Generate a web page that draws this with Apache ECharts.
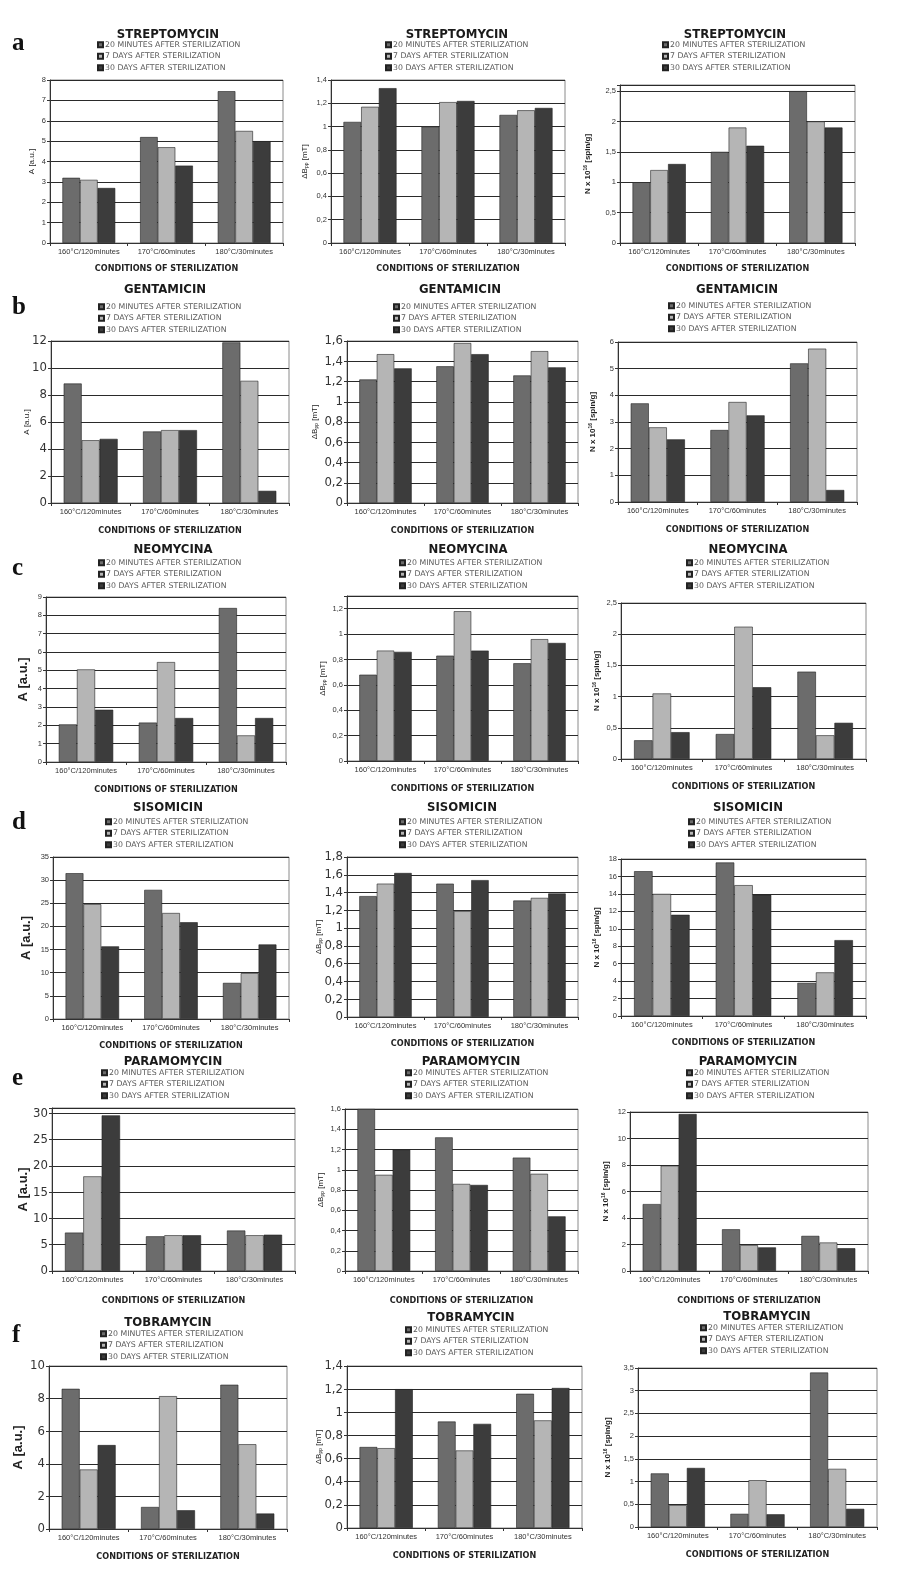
<!DOCTYPE html>
<html><head><meta charset="utf-8">
<script src="https://cdn.jsdelivr.net/npm/echarts@6/dist/echarts.min.js"></script>
<style>html,body{margin:0;padding:0;background:#fff}#c{width:900px;height:1592px}</style>
</head><body><div id="c"></div>
<script>
const categories = ['160°C/120minutes', '170°C/60minutes', '180°C/30minutes'];
const seriesNames = ['20 MINUTES AFTER STERILIZATION', '7 DAYS AFTER STERILIZATION', '30 DAYS AFTER STERILIZATION'];
const drugNames = ['STREPTOMYCIN', 'GENTAMICIN', 'NEOMYCINA', 'SISOMICIN', 'PARAMOMYCIN', 'TOBRAMYCIN'];
const rowLetters = ['a', 'b', 'c', 'd', 'e', 'f'];
const xAxisTitle = 'CONDITIONS OF STERILIZATION';

// each array: [20 minutes, 7 days, 30 days], values per category
const streptomycinA = [[3.2, 5.2, 7.45], [3.1, 4.7, 5.5], [2.7, 3.8, 5.0]];
const streptomycinB = [[1.04, 1.0, 1.1], [1.17, 1.21, 1.14], [1.33, 1.22, 1.16]];
const streptomycinN = [[1.0, 1.5, 2.5], [1.2, 1.9, 2.0], [1.3, 1.6, 1.9]];
const gentamicinA = [[8.85, 5.3, 11.9], [4.65, 5.4, 9.05], [4.75, 5.4, 0.9]];
const gentamicinB = [[1.22, 1.35, 1.26], [1.47, 1.58, 1.5], [1.33, 1.47, 1.34]];
const gentamicinN = [[3.7, 2.7, 5.2], [2.8, 3.75, 5.75], [2.35, 3.25, 0.45]];
const neomycinaA = [[2.05, 2.15, 8.4], [5.05, 5.45, 1.45], [2.85, 2.4, 2.4]];
const neomycinaB = [[0.68, 0.83, 0.77], [0.87, 1.18, 0.96], [0.86, 0.87, 0.93]];
const neomycinaN = [[0.3, 0.4, 1.4], [1.05, 2.12, 0.38], [0.43, 1.15, 0.58]];
const sisomicinA = [[31.5, 27.9, 7.8], [24.8, 22.9, 9.9], [15.7, 20.9, 16.1]];
const sisomicinB = [[1.36, 1.5, 1.31], [1.5, 1.19, 1.34], [1.62, 1.54, 1.39]];
const sisomicinN = [[16.6, 17.6, 3.8], [14.0, 15.0, 5.0], [11.6, 13.9, 8.7]];
const paramomycinA = [[7.3, 6.6, 7.7], [18.0, 6.8, 6.8], [29.6, 6.8, 6.9]];
const paramomycinB = [[1.6, 1.32, 1.12], [0.95, 0.86, 0.96], [1.2, 0.85, 0.54]];
const paramomycinN = [[5.05, 3.15, 2.65], [7.95, 1.95, 2.15], [11.85, 1.78, 1.72]];
const tobramycinA = [[8.6, 1.35, 8.85], [3.65, 8.15, 5.2], [5.15, 1.15, 0.95]];
const tobramycinB = [[0.7, 0.92, 1.16], [0.69, 0.67, 0.93], [1.2, 0.9, 1.21]];
const tobramycinN = [[1.18, 0.29, 3.4], [0.48, 1.03, 1.28], [1.3, 0.28, 0.4]];

const panelData = [
  [streptomycinA, streptomycinB, streptomycinN],
  [gentamicinA, gentamicinB, gentamicinN],
  [neomycinaA, neomycinaB, neomycinaN],
  [sisomicinA, sisomicinB, sisomicinN],
  [paramomycinA, paramomycinB, paramomycinN],
  [tobramycinA, tobramycinB, tobramycinN]
];
// axis scales
const yMax = [[8, 1.4, 2.6], [12, 1.6, 6], [9, 1.3, 2.5], [35, 1.8, 18], [31, 1.6, 12], [10, 1.4, 3.5]];
const yStep = [[1, 0.2, 0.5], [2, 0.2, 1], [1, 0.2, 0.5], [5, 0.2, 2], [5, 0.2, 2], [2, 0.2, 0.5]];

// ---- layout (pixel positions) ----
const layout = [
  {letterY: 48, xGap: 21, panels: [
    {x0: 50, x1: 283, top: 80, bottom: 243, tx: 168, ty: 35, lx: 97, ly: 45, big: false, nameGap: 14},
    {x0: 331, x1: 565, top: 80, bottom: 243, tx: 457, ty: 35, lx: 385, ly: 45, big: false, nameGap: 22},
    {x0: 620, x1: 855, top: 85, bottom: 243, tx: 735, ty: 35, lx: 662, ly: 45, big: false, nameGap: 28}]},
  {letterY: 312, xGap: 23, panels: [
    {x0: 51, x1: 289, top: 341, bottom: 503, tx: 165, ty: 290, lx: 98, ly: 307, big: true, nameGap: 20},
    {x0: 347, x1: 578, top: 341, bottom: 503, tx: 460, ty: 290, lx: 393, ly: 307, big: true, nameGap: 28},
    {x0: 618, x1: 857, top: 342, bottom: 502, tx: 737, ty: 290, lx: 668, ly: 306, big: false, nameGap: 21}]},
  {letterY: 573, xGap: 23, panels: [
    {x0: 46, x1: 286, top: 597, bottom: 762, tx: 173, ty: 550, lx: 98, ly: 563, big: false, nameGap: 16},
    {x0: 347, x1: 578, top: 596, bottom: 761, tx: 468, ty: 550, lx: 399, ly: 563, big: false, nameGap: 20},
    {x0: 621, x1: 866, top: 603, bottom: 759, tx: 748, ty: 550, lx: 686, ly: 563, big: false, nameGap: 20}]},
  {letterY: 827, xGap: 22, panels: [
    {x0: 53, x1: 289, top: 857, bottom: 1019, tx: 168, ty: 808, lx: 105, ly: 822, big: false, nameGap: 20},
    {x0: 347, x1: 578, top: 857, bottom: 1017, tx: 462, ty: 808, lx: 399, ly: 822, big: true, nameGap: 24},
    {x0: 621, x1: 866, top: 859, bottom: 1016, tx: 748, ty: 808, lx: 688, ly: 822, big: false, nameGap: 20}]},
  {letterY: 1083, xGap: 25, panels: [
    {x0: 52, x1: 295, top: 1108, bottom: 1271, tx: 173, ty: 1062, lx: 101, ly: 1073, big: true, nameGap: 22},
    {x0: 345, x1: 578, top: 1109, bottom: 1271, tx: 471, ty: 1062, lx: 405, ly: 1073, big: false, nameGap: 20},
    {x0: 630, x1: 868, top: 1112, bottom: 1271, tx: 748, ty: 1062, lx: 686, ly: 1073, big: false, nameGap: 20}]},
  {letterY: 1340, xGap: 23, panels: [
    {x0: 49, x1: 287, top: 1366, bottom: 1529, tx: 168, ty: 1323, lx: 100, ly: 1334, big: true, nameGap: 24},
    {x0: 347, x1: 582, top: 1366, bottom: 1528, tx: 471, ty: 1318, lx: 405, ly: 1330, big: true, nameGap: 24},
    {x0: 638, x1: 877, top: 1368, bottom: 1527, tx: 767, ty: 1317, lx: 700, ly: 1328, big: false, nameGap: 26}]}
];

const colors = ['#6c6c6c', '#b5b5b5', '#3c3c3c'];
const SANS = "'Liberation Sans', Arial, sans-serif";
const WIDE = "'DejaVu Sans', 'Liberation Sans', sans-serif";
const NARROW = "'Liberation Sans Narrow', 'DejaVu Sans Condensed', 'Liberation Sans', sans-serif";

function yName(col, row) {
  if (col === 0) {
    const bold = row >= 2;
    return {name: 'A [a.u.]', style: {fontFamily: SANS, fontSize: bold ? 13 : 8, fontWeight: bold ? 'bold' : 'normal', color: '#222'}};
  }
  if (col === 1) {
    return {name: '{a|ΔB}{s|pp}{a| [mT]}', style: {color: '#222', rich: {
      a: {fontFamily: SANS, fontSize: 8, color: '#222'},
      s: {fontFamily: SANS, fontSize: 5, color: '#222', verticalAlign: 'bottom', padding: [4, 0, 0, 0]}}}};
  }
  return {name: '{a|N x 10}{p|16}{a| [spin/g]}', style: {color: '#222', rich: {
    a: {fontFamily: SANS, fontSize: 8, fontWeight: 'bold', color: '#222'},
    p: {fontFamily: SANS, fontSize: 5, fontWeight: 'bold', color: '#222', verticalAlign: 'top', padding: [0, 0, 4, 0]}}}};
}

const option = {animation: false, backgroundColor: '#fff', title: [], legend: [], grid: [], xAxis: [], yAxis: [], series: []};

layout.forEach((row, r) => {
  option.title.push({text: rowLetters[r], left: 12, top: row.letterY - 17, padding: 0,
    textStyle: {fontFamily: "'Liberation Serif', 'DejaVu Serif', serif", fontWeight: 'bold', fontSize: 25, color: '#111'}});
  row.panels.forEach((p, c) => {
    const idx = r * 3 + c;
    option.title.push({text: drugNames[r], left: p.tx, top: p.ty - 7, textAlign: 'center', padding: 0,
      textStyle: {fontFamily: NARROW, fontWeight: 'bold', fontSize: 13, color: '#1a1a1a'}});
    option.legend.push({data: seriesNames, orient: 'vertical', left: p.lx, top: p.ly - 5, padding: 0, itemGap: 2,
      itemWidth: 5, itemHeight: 5, icon: 'rect', selectedMode: false,
      textStyle: {fontFamily: WIDE, fontSize: 7.8, lineHeight: 9.5, color: '#5a5a5a', padding: [0, 0, 0, -3]}});
    option.grid.push({left: p.x0, top: p.top, width: p.x1 - p.x0, height: p.bottom - p.top,
      show: true, borderColor: '#8a8a8a', borderWidth: 1, backgroundColor: 'transparent',
      containLabel: false, outerBoundsMode: 'none'});
    option.xAxis.push({type: 'category', gridIndex: idx, data: categories,
      axisLine: {lineStyle: {color: '#333', width: 1}},
      axisTick: {show: true, length: 3, lineStyle: {color: '#333'}},
      axisLabel: {interval: 0, fontFamily: SANS, fontSize: 7.5, color: '#333', margin: 5},
      name: xAxisTitle, nameLocation: 'middle', nameGap: row.xGap,
      nameTextStyle: {fontFamily: NARROW, fontWeight: 'bold', fontSize: 9, color: '#222'}});
    const step = yStep[r][c];
    const yn = yName(c, r);
    option.yAxis.push({type: 'value', gridIndex: idx, min: 0, max: yMax[r][c], interval: step,
      axisLine: {show: true, lineStyle: {color: '#333', width: 1}},
      axisTick: {show: true, length: 3, lineStyle: {color: '#333'}},
      splitLine: {show: true, lineStyle: {color: '#2a2a2a', width: 1.2}},
      axisLabel: {fontFamily: p.big ? NARROW : SANS, fontSize: p.big ? 13 : 7.5, color: '#333', margin: 4,
        formatter: v => {
          const k = v / step;
          if (Math.abs(k - Math.round(k)) > 1e-6) return '';
          return String(+v.toFixed(2)).replace('.', ',');
        }},
      name: yn.name, nameLocation: 'middle', nameGap: p.nameGap, nameRotate: 90, nameMoveOverlap: false,
      nameTextStyle: yn.style});
    panelData[r][c].forEach((vals, s) => {
      option.series.push({type: 'bar', name: seriesNames[s], xAxisIndex: idx, yAxisIndex: idx, data: vals,
        barGap: '0%', barCategoryGap: '32%',
        itemStyle: {color: colors[s], borderColor: '#222', borderWidth: 0.6}});
    });
  });
});

const chart = echarts.init(document.getElementById('c'), null, {renderer: 'canvas', width: 900, height: 1592});
chart.setOption(option);
</script></body></html>
